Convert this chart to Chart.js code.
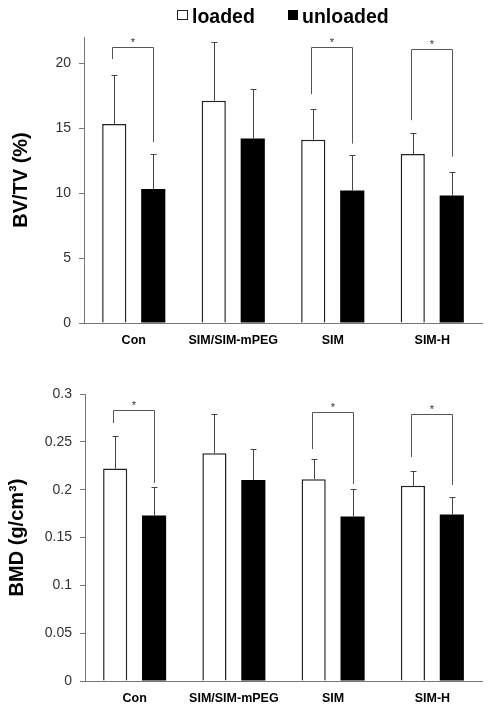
<!DOCTYPE html>
<html>
<head>
<meta charset="utf-8">
<script src="https://cdn.jsdelivr.net/npm/chart.js@4.4.0/dist/chart.umd.min.js"></script>
<style>
  body { margin: 0; background: #fff; width: 492px; height: 713px; position: relative; overflow: hidden; }
  canvas { position: absolute; left: 0; }
  #bvtvChart { top: 0; }
  #bmdChart { top: 350px; }
  .lg-box { position: absolute; top: 10px; width: 11px; height: 10px; box-sizing: border-box; }
  .lg-text { position: absolute; top: 6px; font: bold 19.5px 'Liberation Sans', Arial, sans-serif; line-height: 20px; color: #000; }
</style>
</head>
<body>
<canvas id="bvtvChart" width="492" height="350"></canvas>
<canvas id="bmdChart" width="492" height="363"></canvas>

<div class="lg-box" style="left:177px; border:1.5px solid #222; background:#fff;"></div>
<div class="lg-text" style="left:192px;">loaded</div>
<div class="lg-box" style="left:288px; width:10px; background:#000;"></div>
<div class="lg-text" style="left:302px;">unloaded</div>

<script>
// --- Data ---
const categories = ['Con', 'SIM/SIM-mPEG', 'SIM', 'SIM-H'];
const seriesNames = ['loaded', 'unloaded'];

const bvtvLoaded = [15.3, 17.1, 14.1, 13.0];
const bvtvUnloaded = [10.3, 14.2, 10.2, 9.8];
const bvtvLoadedErr = [3.8, 4.5, 2.4, 1.6];
const bvtvUnloadedErr = [2.7, 3.8, 2.7, 1.8];
// significance brackets: top line, left leg end, right leg end (null = none)
const bvtvBracketTop = [21.25, null, 21.2, 21.1];
const bvtvBracketLeft = [20.3, null, 17.6, 15.6];
const bvtvBracketRight = [13.9, null, 13.8, 12.8];

const bmdLoaded = [0.222, 0.238, 0.211, 0.204];
const bmdUnloaded = [0.173, 0.210, 0.172, 0.174];
const bmdLoadedErr = [0.034, 0.041, 0.021, 0.015];
const bmdUnloadedErr = [0.030, 0.033, 0.029, 0.018];
const bmdBracketTop = [0.283, null, 0.2815, 0.279];
const bmdBracketLeft = [0.2696, null, 0.2425, 0.234];
const bmdBracketRight = [0.207, null, 0.206, 0.205];

Chart.defaults.font.family = "'Liberation Sans', Arial, sans-serif";

// --- Error bars + brackets plugin ---
const annotations = {
  id: 'annotations',
  afterDatasetsDraw(chart, args, opts) {
    const { ctx } = chart;
    const y = chart.scales.y;
    ctx.save();
    ctx.lineWidth = 1;

    // error bars (upper only)
    ctx.strokeStyle = '#444';
    chart.data.datasets.forEach((ds, di) => {
      const meta = chart.getDatasetMeta(di);
      meta.data.forEach((bar, i) => {
        const x = Math.round(bar.x) + 0.5;
        const yTop = Math.round(y.getPixelForValue(ds.data[i] + ds.errors[i])) + 0.5;
        ctx.beginPath();
        ctx.moveTo(x, bar.y);
        ctx.lineTo(x, yTop);
        ctx.moveTo(x - 3, yTop);
        ctx.lineTo(x + 3, yTop);
        ctx.stroke();
      });
    });

    // brackets
    const m0 = chart.getDatasetMeta(0), m1 = chart.getDatasetMeta(1);
    ctx.strokeStyle = '#555';
    ctx.fillStyle = '#333';
    ctx.font = "11px 'Liberation Sans', Arial, sans-serif";
    ctx.textAlign = 'center';
    ctx.textBaseline = 'alphabetic';
    opts.top.forEach((t, i) => {
      if (t === null) return;
      const x0 = Math.round(m0.data[i].x) - 1.5;
      const x1 = Math.round(m1.data[i].x) + 0.5;
      const yt = Math.round(y.getPixelForValue(t)) + 0.5;
      ctx.beginPath();
      ctx.moveTo(x0, y.getPixelForValue(opts.left[i]));
      ctx.lineTo(x0, yt);
      ctx.lineTo(x1, yt);
      ctx.lineTo(x1, y.getPixelForValue(opts.right[i]));
      ctx.stroke();
      ctx.fillText('*', (x0 + x1) / 2, yt - 1.5);
    });
    ctx.restore();
  }
};

function makeChart(canvasId, loaded, unloaded, loadedErr, unloadedErr, bracket, yOpts) {
  return new Chart(document.getElementById(canvasId).getContext('2d'), {
    type: 'bar',
    data: {
      labels: categories,
      datasets: [
        {
          label: seriesNames[0],
          data: loaded,
          errors: loadedErr,
          backgroundColor: '#fff',
          borderColor: '#222',
          borderWidth: 1.5
        },
        {
          label: seriesNames[1],
          data: unloaded,
          errors: unloadedErr,
          backgroundColor: '#000',
          borderColor: '#000',
          borderWidth: 0
        }
      ]
    },
    options: {
      responsive: false,
      animation: false,
      devicePixelRatio: 1,
      categoryPercentage: 0.784,
      barPercentage: 0.62,
      layout: { padding: yOpts.padding },
      plugins: {
        legend: { display: false },
        tooltip: { enabled: false },
        annotations: bracket
      },
      scales: {
        x: {
          grid: { drawOnChartArea: false, drawTicks: false },
          border: { color: '#777', width: 1 },
          ticks: { color: '#000', padding: 10, font: { size: 12.5, weight: 'bold' } },
          afterFit: (s) => { s.height = yOpts.xHeight; }
        },
        y: {
          min: 0,
          max: yOpts.max,
          grid: { drawOnChartArea: false, drawTicks: true, tickLength: 5, color: '#777' },
          border: { color: '#777', width: 1 },
          ticks: {
            stepSize: yOpts.step,
            includeBounds: false,
            color: '#333',
            padding: 8,
            font: { size: 14 },
            callback: (v) => String(+v.toFixed(2))
          },
          title: {
            display: true,
            text: yOpts.title,
            color: '#000',
            padding: { top: yOpts.titlePad, bottom: 0 },
            font: { size: 20, weight: 'bold' }
          },
          afterFit: (s) => { s.width = yOpts.yWidth; }
        }
      }
    },
    plugins: [annotations]
  });
}

const bvtvChart = makeChart('bvtvChart', bvtvLoaded, bvtvUnloaded, bvtvLoadedErr, bvtvUnloadedErr,
  { top: bvtvBracketTop, left: bvtvBracketLeft, right: bvtvBracketRight },
  { max: 22, step: 5, title: 'BV/TV (%)', titlePad: 9, yWidth: 84, xHeight: 27,
    padding: { top: 37, right: 10, left: 0, bottom: 0 } });

const bmdChart = makeChart('bmdChart', bmdLoaded, bmdUnloaded, bmdLoadedErr, bmdUnloadedErr,
  { top: bmdBracketTop, left: bmdBracketLeft, right: bmdBracketRight },
  { max: 0.3, step: 0.05, title: 'BMD (g/cm³)', titlePad: 5, yWidth: 85, xHeight: 32,
    padding: { top: 44, right: 10, left: 0, bottom: 0 } });
</script>
</body>
</html>
